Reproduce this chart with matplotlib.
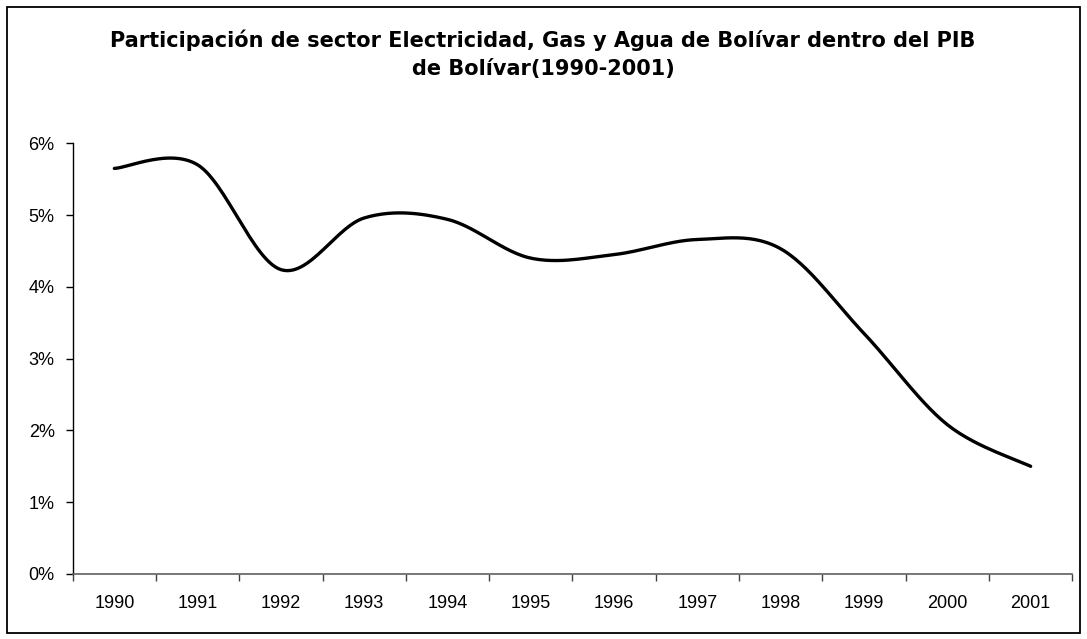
import numpy as np
import matplotlib
matplotlib.use("Agg")
import matplotlib.pyplot as plt
from matplotlib.patches import Rectangle
from matplotlib.ticker import FuncFormatter, FixedLocator

years = ["1990", "1991", "1992", "1993", "1994", "1995",
         "1996", "1997", "1998", "1999", "2000", "2001"]
share_pct = [5.65, 5.70, 4.24, 4.96, 4.94, 4.40,
             4.45, 4.66, 4.53, 3.35, 2.08, 1.50]
yticks_pct = [0, 1, 2, 3, 4, 5, 6]
title_line1 = "Participación de sector Electricidad, Gas y Agua de Bolívar dentro del PIB"
title_line2 = "de Bolívar(1990-2001)"


def smooth(xs, ys, n=30):
    """Excel-like smoothed line: Catmull-Rom control points, cubic Bezier."""
    xs = np.asarray(xs, float)
    ys = np.asarray(ys, float)
    px = np.concatenate([[xs[0]], xs, [xs[-1]]])
    py = np.concatenate([[ys[0]], ys, [ys[-1]]])
    outx, outy = [], []
    t = np.linspace(0, 1, n)
    for i in range(1, len(px) - 2):
        p0x, p1x, p2x, p3x = px[i - 1], px[i], px[i + 1], px[i + 2]
        p0y, p1y, p2y, p3y = py[i - 1], py[i], py[i + 1], py[i + 2]
        c1x = p1x + (p2x - p0x) / 6
        c1y = p1y + (p2y - p0y) / 6
        c2x = p2x - (p3x - p1x) / 6
        c2y = p2y - (p3y - p1y) / 6
        bx = (1 - t) ** 3 * p1x + 3 * (1 - t) ** 2 * t * c1x + 3 * (1 - t) * t ** 2 * c2x + t ** 3 * p2x
        by = (1 - t) ** 3 * p1y + 3 * (1 - t) ** 2 * t * c1y + 3 * (1 - t) * t ** 2 * c2y + t ** 3 * p2y
        if i > 1:
            bx, by = bx[1:], by[1:]
        outx.extend(bx)
        outy.extend(by)
    return np.array(outx), np.array(outy)


plt.rcParams['font.family'] = ['Liberation Sans', 'DejaVu Sans']

W, H = 1087, 639
fig = plt.figure(figsize=(W / 100, H / 100), dpi=100)
fig.patch.set_facecolor('white')

# outer chart border
fig.patches.append(Rectangle((7 / W, 6 / H), (1080 - 7) / W, (632 - 6) / H,
                             transform=fig.transFigure, fill=False,
                             edgecolor='black', linewidth=1.3))

ax = fig.add_axes([72.7 / W, 1 - 574 / H, (1072.3 - 72.7) / W, (574 - 143.3) / H])

x = np.arange(len(years))
sx, sy = smooth(x, share_pct)
ax.plot(sx, sy, color='black', linewidth=2.4, solid_capstyle='round', solid_joinstyle='round')

ax.set_xlim(-0.5, len(years) - 0.5)
ax.set_ylim(0, 6)

ax.yaxis.set_major_locator(FixedLocator(yticks_pct))
ax.yaxis.set_major_formatter(FuncFormatter(lambda v, p: f"{int(round(v))}%"))

ax.xaxis.set_major_locator(FixedLocator(np.arange(-0.5, len(years), 1.0)))
ax.xaxis.set_major_formatter(FuncFormatter(lambda v, p: ""))
ax.set_xticks(x, minor=True)
ax.set_xticklabels(years, minor=True)

ax.tick_params(axis='x', which='major', length=5, width=1, color='#404040', direction='out')
ax.tick_params(axis='x', which='minor', length=0, pad=15, labelsize=13)
ax.tick_params(axis='y', which='major', length=5, width=1, color='black', direction='out',
               pad=8, labelsize=13)

for s in ['top', 'right']:
    ax.spines[s].set_visible(False)
ax.spines['left'].set_color('black')
ax.spines['left'].set_linewidth(1.0)
ax.spines['bottom'].set_color('#606060')
ax.spines['bottom'].set_linewidth(1.2)

for txt, base in [(title_line1, 46.7), (title_line2, 75)]:
    fig.text(543 / W, 1 - base / H, txt, ha='center', va='baseline',
             fontsize=15, fontweight='bold', family='DejaVu Sans')

fig.savefig("out.png", dpi=100, facecolor='white')
